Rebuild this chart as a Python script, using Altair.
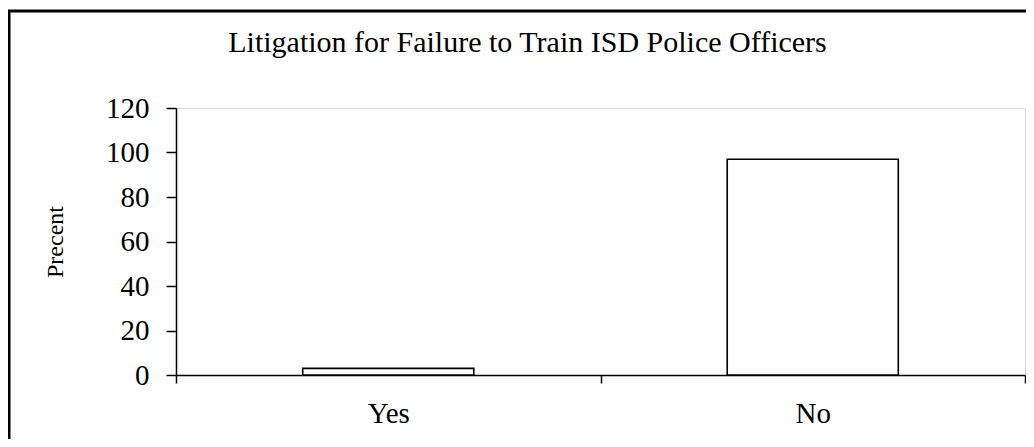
import altair as alt
import pandas as pd

categories = ["Yes", "No"]
percents = [3, 97]
y_ticks = [0, 20, 40, 60, 80, 100, 120]
title_text = "Litigation for Failure to Train ISD Police Officers"
y_title = "Precent"

df = pd.DataFrame({"Response": categories, "Percent": percents})
FONT = "Liberation Serif"

bars = alt.Chart(df).mark_bar(
    width=alt.RelativeBandSize(0.403), fill="white", stroke="black", strokeWidth=1.6
).encode(
    x=alt.X(
        "Response:N", sort=categories,
        scale=alt.Scale(paddingInner=0, paddingOuter=0),
        axis=alt.Axis(title=None, labelAngle=0, tickBand="extent", tickSize=8,
                      tickColor="black", domainColor="black", domainWidth=1.5, tickWidth=1.5,
                      labelFont=FONT, labelFontSize=29, labelColor="black", labelPadding=16,
                      grid=False),
    ),
    y=alt.Y(
        "Percent:Q",
        scale=alt.Scale(domain=[0, 120], nice=False),
        axis=alt.Axis(values=y_ticks, title=y_title, grid=False, tickSize=10,
                      tickColor="black", domainColor="black", domainWidth=1.5, tickWidth=1.5,
                      labelFont=FONT, labelFontSize=29, labelColor="black", labelPadding=17,
                      titleFont=FONT, titleFontSize=24, titleFontWeight="normal", titleColor="black",
                      titleAngle=-90, titleX=-121, titleY=133.5, titleAlign="center",
                      titleBaseline="middle"),
    ),
)

frame = alt.Chart(alt.Data(values=[{}])).mark_rect(
    fill="transparent", stroke="black", strokeWidth=3
).encode(
    x=alt.value(-167), x2=alt.value(900), y=alt.value(-97), y2=alt.value(420)
)

chart = alt.layer(bars, frame).properties(
    width=849, height=267,
    title=alt.TitleParams(title_text, font=FONT, fontSize=30, fontWeight="normal",
                          color="black", anchor="middle", dx=-73, offset=-72,
                          baseline="alphabetic"),
    autosize=alt.AutoSizeParams(type="none"),
    padding={"left": 168, "top": 100, "right": 1, "bottom": 64},
).configure_view(stroke="#888888", strokeWidth=1.5).configure(background="white")

chart.save("out.html", embed_options={"renderer": "svg", "actions": False})
